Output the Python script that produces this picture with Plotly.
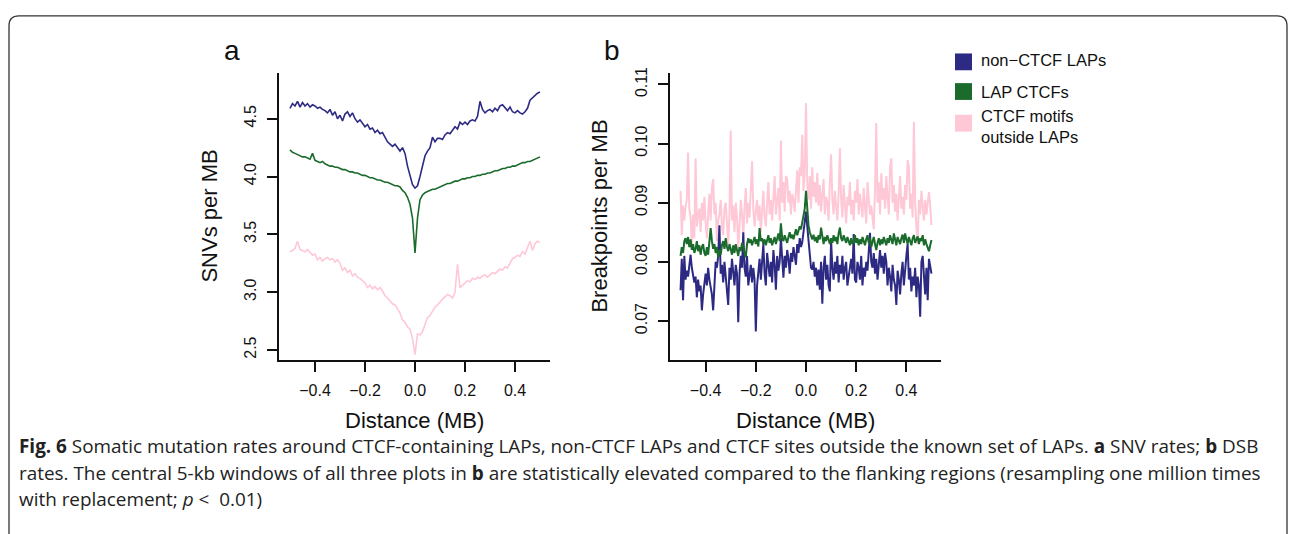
import numpy as np
import plotly.graph_objects as go

W, H = 1290, 534

# ---------------- Panel a: SNVs per MB (101 windows, -0.5..0.5 MB) ----------------
snv_non_ctcf_laps = [
    4.59, 4.63, 4.61, 4.65, 4.60, 4.64, 4.61, 4.63, 4.60, 4.62,
    4.61, 4.59, 4.60, 4.58, 4.57, 4.55, 4.58, 4.53, 4.56, 4.50,
    4.53, 4.48, 4.54, 4.56, 4.52, 4.55, 4.50, 4.47, 4.49, 4.46,
    4.43, 4.45, 4.41, 4.42, 4.38, 4.40, 4.37, 4.38, 4.34, 4.30,
    4.28, 4.26, 4.28, 4.25, 4.22, 4.25, 4.20, 4.09, 4.02, 3.93,
    3.90, 3.92, 4.00, 4.10, 4.18, 4.22, 4.25, 4.34, 4.30, 4.33,
    4.33, 4.32, 4.36, 4.38, 4.37, 4.40, 4.43, 4.41, 4.47, 4.45,
    4.47, 4.45, 4.48, 4.49, 4.48, 4.52, 4.65, 4.58, 4.55, 4.57,
    4.58, 4.56, 4.59, 4.57, 4.61, 4.62, 4.59, 4.57, 4.60, 4.56,
    4.55, 4.57, 4.55, 4.54, 4.56, 4.59, 4.66, 4.68, 4.70, 4.72,
    4.73,
]
snv_lap_ctcfs = [
    4.23, 4.21, 4.20, 4.19, 4.18, 4.17, 4.17, 4.16, 4.15, 4.20,
    4.14, 4.13, 4.12, 4.13, 4.11, 4.10, 4.09, 4.09, 4.08, 4.08,
    4.07, 4.06, 4.06, 4.05, 4.04, 4.04, 4.03, 4.03, 4.02, 4.01,
    4.01, 4.00, 3.99, 3.99, 3.98, 3.97, 3.97, 3.96, 3.95, 3.95,
    3.94, 3.93, 3.92, 3.92, 3.91, 3.88, 3.86, 3.82, 3.76, 3.64,
    3.34,
    3.64, 3.80, 3.84, 3.86, 3.87, 3.88, 3.89, 3.89, 3.90,
    3.91, 3.92, 3.93, 3.94, 3.94, 3.95, 3.96, 3.96, 3.97, 3.98,
    3.98, 3.99, 3.99, 4.00, 4.00, 4.01, 4.01, 4.02, 4.02, 4.03,
    4.03, 4.04, 4.05, 4.05, 4.06, 4.07, 4.07, 4.08, 4.08, 4.09,
    4.09, 4.10, 4.11, 4.12, 4.12, 4.13, 4.13, 4.14, 4.15, 4.16,
    4.17,
]
snv_ctcf_outside = [
    3.35, 3.36, 3.38, 3.44, 3.37, 3.36, 3.35, 3.37, 3.34, 3.32,
    3.33, 3.28, 3.30, 3.27, 3.29, 3.30, 3.28, 3.29, 3.26, 3.28,
    3.25, 3.19, 3.21, 3.17, 3.19, 3.14, 3.16, 3.13, 3.12, 3.10,
    3.08, 3.04, 3.06, 3.03, 3.05, 3.02, 3.04, 3.01, 2.97, 2.95,
    2.92, 2.90, 2.89, 2.85, 2.82, 2.76, 2.74, 2.70, 2.68, 2.60,
    2.46,
    2.64, 2.63, 2.66, 2.72, 2.78, 2.80, 2.84, 2.87, 2.89,
    2.92, 2.94, 2.96, 2.98, 2.97, 2.95, 3.00, 3.24, 3.04, 3.06,
    3.08, 3.10, 3.09, 3.12, 3.11, 3.13, 3.12, 3.14, 3.15, 3.13,
    3.15, 3.17, 3.16, 3.18, 3.20, 3.19, 3.22, 3.21, 3.25, 3.29,
    3.30, 3.32, 3.31, 3.35, 3.33, 3.38, 3.44, 3.36, 3.42, 3.44,
    3.43,
]

# ---------------- Panel b: Breakpoints per MB (201 windows) ----------------
bp_non_ctcf_laps = [
    0.0752, 0.0805, 0.0735, 0.0810, 0.0770, 0.0785, 0.0775, 0.0800, 0.0812, 0.0790,
    0.0780, 0.0765, 0.0775, 0.0740, 0.0770, 0.0750, 0.0760, 0.0718, 0.0745, 0.0765,
    0.0780, 0.0760, 0.0790, 0.0770, 0.0755, 0.0745, 0.0718, 0.0765, 0.0800, 0.0790,
    0.0810, 0.0862, 0.0780, 0.0795, 0.0765, 0.0800, 0.0775, 0.0760, 0.0727, 0.0790,
    0.0770, 0.0805, 0.0780, 0.0760, 0.0795, 0.0780, 0.0698, 0.0780, 0.0810, 0.0790,
    0.0850, 0.0790, 0.0775, 0.0810, 0.0760, 0.0780, 0.0795, 0.0765, 0.0790, 0.0770,
    0.0682, 0.0760, 0.0790, 0.0805, 0.0770, 0.0800, 0.0830, 0.0780, 0.0760, 0.0815,
    0.0790, 0.0775, 0.0800, 0.0765, 0.0820, 0.0795, 0.0753, 0.0810, 0.0785, 0.0800,
    0.0840, 0.0800, 0.0773, 0.0810, 0.0790, 0.0820, 0.0805, 0.0780, 0.0815, 0.0800,
    0.0825, 0.0810, 0.0795, 0.0830, 0.0815, 0.0840, 0.0825, 0.0833, 0.0850, 0.0867,
    0.0885, 0.0860, 0.0840, 0.0820, 0.0790, 0.0787, 0.0800, 0.0775, 0.0790, 0.0760,
    0.0787, 0.0753, 0.0800, 0.0729, 0.0790, 0.0810, 0.0770, 0.0795, 0.0760, 0.0750,
    0.0837, 0.0790, 0.0770, 0.0800, 0.0780, 0.0810, 0.0765, 0.0795, 0.0780, 0.0810,
    0.0770, 0.0790, 0.0800, 0.0760, 0.0775, 0.0790, 0.0805, 0.0780, 0.0847, 0.0770,
    0.0765, 0.0800, 0.0790, 0.0770, 0.0810, 0.0760, 0.0790, 0.0775, 0.0800, 0.0785,
    0.0810, 0.0849, 0.0800, 0.0790, 0.0815, 0.0780, 0.0805, 0.0770, 0.0795, 0.0820,
    0.0790, 0.0810, 0.0780, 0.0815, 0.0800, 0.0760, 0.0790, 0.0775, 0.0750, 0.0795,
    0.0770, 0.0760, 0.0727, 0.0785, 0.0770, 0.0745, 0.0780, 0.0800, 0.0760, 0.0790,
    0.0810, 0.0830, 0.0770, 0.0790, 0.0750, 0.0775, 0.0760, 0.0790, 0.0740, 0.0775,
    0.0760, 0.0707, 0.0800, 0.0810, 0.0775, 0.0745, 0.0790, 0.0735, 0.0805, 0.0790,
    0.0780,
]
bp_lap_ctcfs = [
    0.0810, 0.0825, 0.0815, 0.0835, 0.0840, 0.0830, 0.0842, 0.0825, 0.0838, 0.0820,
    0.0830, 0.0815, 0.0822, 0.0835, 0.0818, 0.0828, 0.0812, 0.0825, 0.0830, 0.0815,
    0.0810, 0.0825, 0.0812, 0.0830, 0.0857, 0.0835, 0.0822, 0.0830, 0.0815, 0.0825,
    0.0807, 0.0820, 0.0812, 0.0828, 0.0835, 0.0822, 0.0840, 0.0825, 0.0818, 0.0830,
    0.0820, 0.0812, 0.0828, 0.0815, 0.0830, 0.0822, 0.0810, 0.0825, 0.0818, 0.0832,
    0.0826, 0.0815, 0.0808, 0.0830, 0.0840, 0.0832, 0.0838, 0.0828, 0.0835, 0.0842,
    0.0830, 0.0838, 0.0826, 0.0857, 0.0835, 0.0840, 0.0830, 0.0838, 0.0828, 0.0835,
    0.0845, 0.0832, 0.0840, 0.0828, 0.0836, 0.0842, 0.0830, 0.0838, 0.0848, 0.0835,
    0.0865, 0.0840, 0.0835, 0.0845, 0.0838, 0.0832, 0.0842, 0.0850, 0.0840, 0.0846,
    0.0838, 0.0848, 0.0855, 0.0845, 0.0852, 0.0860, 0.0855, 0.0865, 0.0875, 0.0890,
    0.0920, 0.0880, 0.0862, 0.0850, 0.0845, 0.0838, 0.0846, 0.0835, 0.0842, 0.0832,
    0.0845, 0.0838, 0.0858, 0.0840, 0.0830, 0.0842, 0.0835, 0.0845, 0.0838, 0.0830,
    0.0840, 0.0832, 0.0845, 0.0835, 0.0842, 0.0830, 0.0848, 0.0858, 0.0840, 0.0835,
    0.0845, 0.0838, 0.0832, 0.0842, 0.0836, 0.0828, 0.0840, 0.0830, 0.0835, 0.0845,
    0.0832, 0.0840, 0.0828, 0.0838, 0.0830, 0.0842, 0.0835, 0.0828, 0.0838, 0.0845,
    0.0832, 0.0840, 0.0825, 0.0835, 0.0842, 0.0830, 0.0820, 0.0832, 0.0840, 0.0828,
    0.0838, 0.0830, 0.0842, 0.0835, 0.0828, 0.0840, 0.0832, 0.0845, 0.0838, 0.0830,
    0.0848, 0.0835, 0.0828, 0.0842, 0.0836, 0.0830, 0.0840, 0.0846, 0.0832, 0.0848,
    0.0838, 0.0830, 0.0842, 0.0835, 0.0828, 0.0840, 0.0845, 0.0832, 0.0838, 0.0843,
    0.0830, 0.0840, 0.0835, 0.0845, 0.0828, 0.0838, 0.0830, 0.0822, 0.0818, 0.0828,
    0.0837,
]
bp_ctcf_outside = [
    0.0920, 0.0845, 0.0895, 0.0870, 0.0892, 0.0905, 0.0985, 0.0890, 0.0875, 0.0830,
    0.0880, 0.0840, 0.0975, 0.0860, 0.0880, 0.0890, 0.0850, 0.0900, 0.0870, 0.0910,
    0.0865, 0.0840, 0.0880, 0.0915, 0.0870, 0.0925, 0.0940, 0.0880, 0.0900, 0.0835,
    0.0870, 0.0880, 0.0905, 0.0860, 0.0845, 0.0890, 0.0900, 0.0870, 0.0830, 0.0880,
    0.1022, 0.0870, 0.0895, 0.0850, 0.0900, 0.0875, 0.0820, 0.0860, 0.0905, 0.0880,
    0.0840, 0.0890, 0.0925, 0.0865, 0.0900, 0.0875, 0.0920, 0.0970, 0.0890, 0.0860,
    0.0885, 0.0905, 0.0870, 0.0895, 0.0850, 0.0880, 0.0920, 0.0875, 0.0860, 0.0900,
    0.0935, 0.0880, 0.0905, 0.0870, 0.0910, 0.0945, 0.0880, 0.0900, 0.0925, 0.0870,
    0.1005, 0.0900, 0.0935, 0.0885, 0.0945, 0.0940, 0.0900, 0.0920, 0.0880, 0.0915,
    0.0905, 0.0885, 0.0930, 0.0955, 0.0900, 0.0960, 0.0945, 0.1015, 0.0920, 0.0950,
    0.1068, 0.0930, 0.0905, 0.0945, 0.0890, 0.0960, 0.0910, 0.0935, 0.0900, 0.0950,
    0.0895, 0.0930, 0.0885, 0.0915, 0.0940, 0.0880, 0.0910, 0.0900, 0.0870, 0.0935,
    0.0982, 0.0905, 0.0880, 0.0920, 0.0895, 0.0870, 0.0915, 0.0992, 0.0905, 0.0875,
    0.0930, 0.0890, 0.0865, 0.0910, 0.0895, 0.0935, 0.0880, 0.0905, 0.0870, 0.0920,
    0.0900, 0.0940, 0.0880, 0.0915, 0.0890, 0.0875, 0.0925, 0.0900, 0.0865, 0.0935,
    0.0910, 0.0880, 0.0895, 0.0870, 0.0855, 0.0920, 0.1035, 0.0900, 0.0935, 0.0880,
    0.0950, 0.0905, 0.0925, 0.0890, 0.0945, 0.0910, 0.0880, 0.0960, 0.0975, 0.0900,
    0.0930, 0.0885, 0.0915, 0.0870, 0.0900, 0.0945, 0.0890, 0.0910, 0.0880, 0.0930,
    0.0905, 0.0972, 0.0960, 0.0890, 0.0915, 0.0875, 0.1037, 0.0900, 0.0860, 0.0830,
    0.0905, 0.0880, 0.0920, 0.0890, 0.0870, 0.0905, 0.0880, 0.0900, 0.0918, 0.0895,
    0.0862,
]

series_names = ["non\u2212CTCF LAPs", "LAP CTCFs", "CTCF motifs<br>outside LAPs"]
colors = ["#2D2A84", "#1B6B2C", "#FFC8D6"]

x_a = np.round(np.linspace(-0.5, 0.5, len(snv_non_ctcf_laps)), 4)
x_b = np.round(np.linspace(-0.5, 0.5, len(bp_non_ctcf_laps)), 4)


def px(x):
    return x / W


def py(y):
    return 1 - y / H


fig = go.Figure()
for vals, col, nm in [(snv_ctcf_outside, colors[2], series_names[2]),
                      (snv_lap_ctcfs, colors[1], series_names[1]),
                      (snv_non_ctcf_laps, colors[0], series_names[0])]:
    fig.add_trace(go.Scatter(x=x_a, y=vals, mode="lines", name=nm, showlegend=False,
                             line=dict(color=col, width=1.6), xaxis="x", yaxis="y"))
for vals, col, nm in [(bp_ctcf_outside, colors[2], series_names[2]),
                      (bp_non_ctcf_laps, colors[0], series_names[0]),
                      (bp_lap_ctcfs, colors[1], series_names[1])]:
    fig.add_trace(go.Scatter(x=x_b, y=vals, mode="lines", name=nm, showlegend=False,
                             line=dict(color=col, width=2.0), xaxis="x2", yaxis="y2"))

font_main = "Liberation Sans, Arial, Helvetica, sans-serif"
axis_common = dict(showline=True, linecolor="#111", linewidth=2, mirror=False,
                   ticks="outside", ticklen=10, tickwidth=1.6, tickcolor="#111",
                   showgrid=False, zeroline=False, ticklabelstandoff=5,
                   tickfont=dict(family=font_main, size=16, color="#111"))

fig.update_layout(
    width=W, height=H, autosize=False,
    margin=dict(l=0, r=0, t=0, b=0),
    paper_bgcolor="white", plot_bgcolor="white",
    showlegend=False,
    xaxis=dict(domain=[px(279), px(550)], range=[-0.544, 0.54], anchor="y",
               tickvals=[-0.4, -0.2, 0.0, 0.2, 0.4], tickformat=".1f", **axis_common),
    yaxis=dict(domain=[py(358), py(68)], range=[2.414, 4.893], anchor="x",
               tickvals=[2.5, 3.0, 3.5, 4.0, 4.5], tickformat=".1f", tickangle=-90,
               **axis_common),
    xaxis2=dict(domain=[px(670), px(941)], range=[-0.542, 0.538], anchor="y2",
                tickvals=[-0.4, -0.2, 0.0, 0.2, 0.4], tickformat=".1f", **axis_common),
    yaxis2=dict(domain=[py(358), py(68)], range=[0.0634, 0.1119], anchor="x2",
                tickvals=[0.07, 0.08, 0.09, 0.10, 0.11], tickformat=".2f", tickangle=-90,
                **axis_common),
)

ann = []


def add_text(text, x, y, size, angle=0, xanchor="center", yanchor="middle", family=font_main,
             color="#111", align="center", borderpad=1):
    ann.append(dict(text=text, x=px(x), y=py(y), xref="paper", yref="paper",
                    showarrow=False, textangle=angle, xanchor=xanchor, yanchor=yanchor,
                    align=align, borderpad=borderpad,
                    font=dict(family=family, size=size, color=color)))


# panel letters
add_text("a", 232, 45, 28)
add_text("b", 612, 45, 28)
# axis titles
add_text("SNVs per MB", 210, 213, 22, angle=-90)
add_text("Distance (MB)", 414, 419, 22, borderpad=0)
add_text("Breakpoints per MB", 600, 213, 22, angle=-90)
add_text("Distance (MB)", 805, 419, 22, borderpad=0)

# legend (squares + labels)
legend_y = [56.5, 86.5, 118.5]
shapes = []
for i, (nm, col) in enumerate(zip(series_names, colors)):
    yc = legend_y[i]
    shapes.append(dict(type="rect", xref="paper", yref="paper",
                       x0=px(955), x1=px(972), y0=py(yc + 8.5), y1=py(yc - 8.5),
                       fillcolor=col, line=dict(width=0)))
add_text("non\u2212CTCF LAPs", 979, 55, 16.5, xanchor="left", align="left")
add_text("LAP CTCFs", 979, 87, 16.5, xanchor="left", align="left")
add_text("CTCF motifs<br>outside LAPs", 979, 122, 16.5, xanchor="left", align="left")

# caption
cap_font = "Open Sans, Noto Sans, sans-serif"
caption_lines = [
    "<b>Fig. 6</b> Somatic mutation rates around CTCF-containing LAPs, non-CTCF LAPs and CTCF sites outside the known set of LAPs. <b>a</b> SNV rates; <b>b</b> DSB",
    "rates. The central 5-kb windows of all three plots in <b>b</b> are statistically elevated compared to the flanking regions (resampling one million times",
    "with replacement; <i>p</i> &lt;  0.01)",
]
for i, line in enumerate(caption_lines):
    add_text(line, 18, 445 + 27 * i, 18.9, xanchor="left", align="left", family=cap_font,
             color="#222", borderpad=0)

# rounded frame
r = 10
frame = (f"M {px(9)},{py(560)} L {px(9)},{py(10 + r)} Q {px(9)},{py(10)} {px(9 + r)},{py(10)} "
         f"L {px(1287 - r)},{py(10)} Q {px(1287)},{py(10)} {px(1287)},{py(10 + r)} "
         f"L {px(1287)},{py(560)}")
shapes.append(dict(type="path", xref="paper", yref="paper", path=frame,
                   line=dict(color="#333", width=1.3)))

fig.update_layout(annotations=ann, shapes=shapes)

fig.write_html("out.html", config={"displayModeBar": False},
               post_script="document.body.style.margin='0';document.body.style.overflow='hidden';")
